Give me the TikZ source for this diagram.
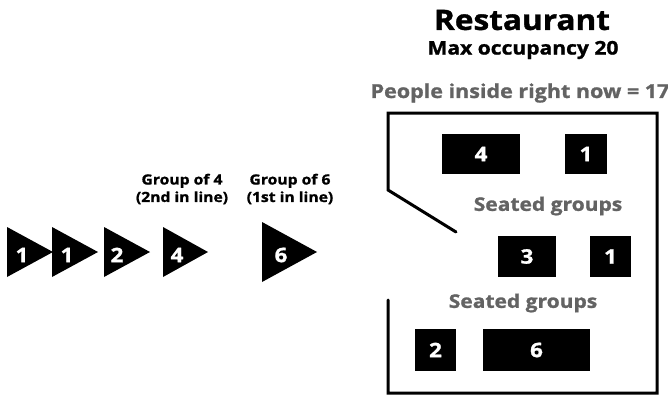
\documentclass[tikz,border=0pt]{standalone}
\usepackage{fontspec}
\setmainfont{Open Sans}
\newfontfamily\wideb[FakeStretch=1.12,BoldFeatures={FakeBold=1.2}]{Open Sans}
\definecolor{txtgray}{HTML}{636363}
\newcommand{\wb}[1]{\fontsize{#1}{1.25\dimexpr #1pt\relax}\wideb\bfseries\selectfont}
\begin{document}
\begin{tikzpicture}[x=1pt,y=-1pt,
  tri/.style={fill=black},
  num/.style={text=white,font=\wb{20},inner sep=0pt},
  tbl/.style={fill=black,inner sep=0pt},
  lbl/.style={font=\wb{14},align=center,inner sep=0pt},
  seat/.style={text=txtgray,font=\wb{18.75},inner sep=0pt},
  wall/.style={line width=3pt,line cap=round}]
\useasboundingbox (0,0) rectangle (668,401);
% queue triangles
\fill[tri] (7,227) -- (53,252) -- (7,277) -- cycle;
\fill[tri] (52,227) -- (98,252) -- (52,277) -- cycle;
\fill[tri] (104,227) -- (150,252) -- (104,277) -- cycle;
\fill[tri] (163,227) -- (208,252) -- (163,277) -- cycle;
\fill[tri] (262,222) -- (317,252) -- (262,282) -- cycle;
\node[num] (q1) at (22,255) {1};
\node[num] (q2) at (67,255) {1};
\node[num] (q3) at (117,255) {2};
\node[num] (q4) at (177,255) {4};
\node[num] (q6) at (281,255) {6};
\node[lbl] (g4) at (182,189) {Group of 4\\(2nd in line)};
\node[lbl] (g6) at (290,189) {Group of 6\\(1st in line)};
% titles
\node[font=\wb{28.2},inner sep=0pt] (title) at (522,20) {Restaurant};
\node[font=\wb{18.8},inner sep=0pt] (max) at (523,50) {Max occupancy 20};
\node[font=\wb{19.2},text=txtgray,inner sep=0pt] (people) at (520,93) {People inside right now = 17};
% room walls
\coordinate (w1) at (388,190);
\coordinate (w2) at (456,232);
\coordinate (w3) at (388,300);
\draw[wall] (w2) -- (w1) -- (388,113) -- (657,113) -- (657,393) -- (388,393) -- (w3);
% tables
\node[tbl,minimum width=78pt,minimum height=40pt] (t4) at (481,154) {};
\node[num] at (t4) {4};
\node[tbl,minimum width=42pt,minimum height=40pt] (t1a) at (586,154) {};
\node[num] at (t1a) {1};
\node[seat] (s1) at (548,206) {Seated groups};
\node[tbl,minimum width=58pt,minimum height=41pt] (t3) at (527,256.5) {};
\node[num] at (t3) {3};
\node[tbl,minimum width=41pt,minimum height=41pt] (t1b) at (610.5,256.5) {};
\node[num] at (t1b) {1};
\node[seat] (s2) at (523,303) {Seated groups};
\node[tbl,minimum width=41pt,minimum height=42pt] (t2) at (435.5,350) {};
\node[num] at (t2) {2};
\node[tbl,minimum width=107pt,minimum height=42pt] (t6) at (536.5,350) {};
\node[num] at (t6) {6};
\end{tikzpicture}
\end{document}
